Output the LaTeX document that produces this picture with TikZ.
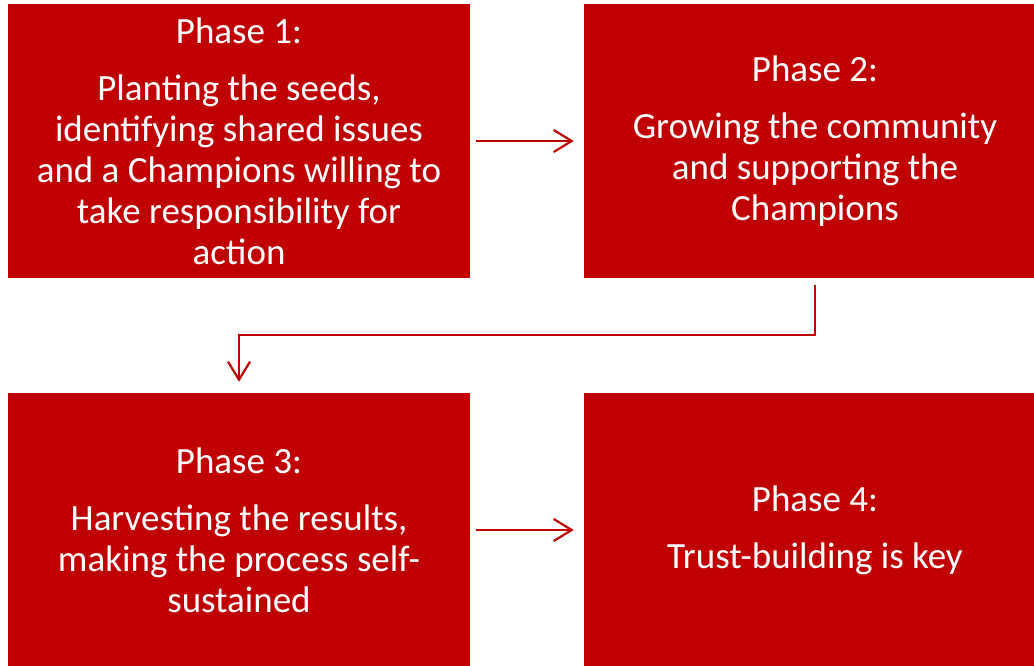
\documentclass[tikz,border=0pt]{standalone}
\usepackage{fontspec}
\setmainfont{Carlito}
\usetikzlibrary{arrows.meta}

\definecolor{phasered}{RGB}{192,0,0}
\tikzset{
    phase/.style={fill=phasered, text=white, minimum width=462pt, minimum height=274pt,
        inner sep=0pt, align=center, font=\fontsize{37}{41}\selectfont},
    flow/.style={draw=phasered, line width=2.2pt,
        -{Straight Barb[length=18pt,width=22pt,line width=2.2pt]}}
}

\begin{document}
\begin{tikzpicture}[x=1pt,y=-1pt]
    \useasboundingbox (0,0) rectangle (1034,666);

    \node[phase] (P1) at (239,141) {Phase 1:\\[16pt]Planting the seeds,\\identifying shared issues\\and a Champions willing to\\take responsibility for\\action};
    \node[phase] (P2) at (815,141) {Phase 2:\\[16pt]Growing the community\\and supporting the\\Champions};
    \node[phase] (P3) at (239,530) {Phase 3:\\[16pt]Harvesting the results,\\making the process self-\\sustained};
    \node[phase] (P4) at (815,530) {Phase 4:\\[16pt]Trust-building is key};

    \draw[flow, shorten <=6pt, shorten >=10pt] (P1) -- (P2);
    \draw[flow, shorten <=7pt, shorten >=11pt] (P2.south) -- ++(0,57) -| (P3.north);
    \draw[flow, shorten <=6pt, shorten >=10pt] (P3) -- (P4);
\end{tikzpicture}
\end{document}
